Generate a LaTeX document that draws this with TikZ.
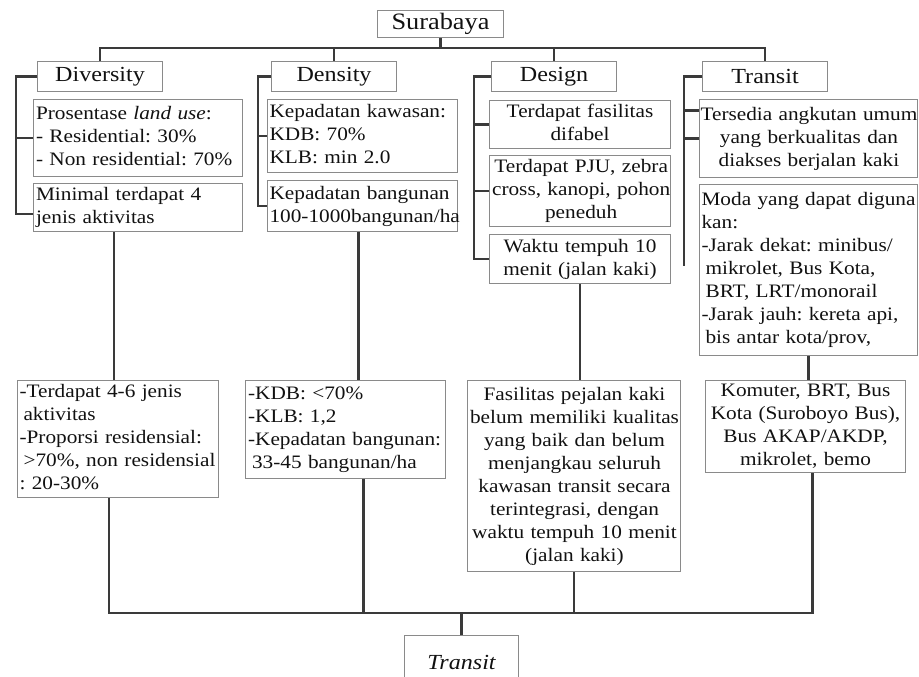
\documentclass[tikz,border=0pt]{standalone}
\usepackage{fontspec}
\setmainfont{Liberation Serif}[FakeStretch=1.12]
\usetikzlibrary{calc}
\frenchspacing

\definecolor{linegray}{HTML}{3A3A3A}
\definecolor{boxgray}{HTML}{8A8A8A}
\definecolor{textgray}{HTML}{111111}

% lines of a box, kept from breaking
\newcommand{\boxlines}[2]{\begin{tabular}{@{}#1@{}}#2\end{tabular}}

\tikzset{
  box/.style={draw=boxgray, line width=1.1pt, anchor=north west, inner xsep=2.5pt, inner ysep=0pt,
    text=textgray, font=\fontsize{19}{23}\selectfont},
  headbox/.style={box, align=center, font=\fontsize{21.5}{24}\selectfont, minimum width=125pt, minimum height=30pt},
  link/.style={draw=linegray, line width=2.2pt},
}

\begin{document}
\begin{tikzpicture}[x=1pt, y=-1pt]
    \useasboundingbox (0,0) rectangle (919,677);
    \clip (0,0) rectangle (919,677);

    % top level
    \node[box, align=center, font=\fontsize{23.5}{26}\selectfont, minimum width=126pt, minimum height=27pt] (surabaya) at (377,10) {Surabaya};

    \node[headbox] (diversity) at (37,61) {Diversity};
    \node[headbox] (density) at (271,61) {Density};
    \node[headbox] (design) at (491,61) {Design};
    \node[headbox] (transit) at (702,61) {Transit};

    % diversity
    \node[box, align=left, text width=204pt, minimum height=77pt] (landuse) at (33,99) {\boxlines{l}{Prosentase \textit{land use}:\\- Residential: 30\%\\- Non residential: 70\%}};
    \node[box, align=left, text width=204pt, minimum height=48pt] (minimal) at (33,183) {\boxlines{l}{Minimal terdapat 4\\jenis aktivitas}};
    \node[box, align=left, text width=197pt, inner xsep=2pt, minimum height=117pt] (divlow) at (17,380) {\boxlines{l}{-Terdapat 4-6 jenis\\\hspace*{4pt}aktivitas\\-Proporsi residensial:\\\hspace*{4pt}>70\%, non residensial\\: 20-30\%}};

    % density
    \node[box, align=left, text width=186pt, inner xsep=2pt, minimum height=73pt] (kawasan) at (267,99) {\boxlines{l}{Kepadatan kawasan:\\KDB: 70\%\\KLB: min 2.0}};
    \node[box, align=left, text width=186pt, inner xsep=2pt, minimum height=51pt] (bangunan) at (267,180) {\boxlines{l}{Kepadatan bangunan\\100-1000bangunan/ha}};
    \node[box, align=left, text width=195pt, minimum height=98pt] (denslow) at (245,380) {\boxlines{l}{-KDB: <70\%\\-KLB: 1,2\\-Kepadatan bangunan:\\\hspace*{4pt}33-45 bangunan/ha}};

    % design
    \node[box, align=center, text width=176pt, minimum height=48pt] (difabel) at (489,100) {\boxlines{c}{Terdapat fasilitas\\difabel}};
    \node[box, align=center, text width=176pt, minimum height=71pt] (pju) at (489,155) {\boxlines{c}{Terdapat PJU, zebra\\cross, kanopi, pohon\\peneduh}};
    \node[box, align=center, text width=176pt, minimum height=49pt] (waktu) at (489,234) {\boxlines{c}{Waktu tempuh 10\\menit (jalan kaki)}};
    \node[box, align=center, text width=208pt, minimum height=191pt] (deslow) at (467,380) {\boxlines{c}{Fasilitas pejalan kaki\\belum memiliki kualitas\\yang baik dan belum\\menjangkau seluruh\\kawasan transit secara\\terintegrasi, dengan\\waktu tempuh 10 menit\\(jalan kaki)}};

    % transit
    \node[box, align=center, text width=216pt, inner xsep=1pt, minimum height=78pt] (tersedia) at (699,99) {\boxlines{c}{Tersedia angkutan umum\\yang berkualitas dan\\diakses berjalan kaki}};
    \node[box, align=left, text width=214pt, inner xsep=2pt, minimum height=171pt] (moda) at (699,184) {\boxlines{l}{Moda yang dapat diguna\\kan:\\-Jarak dekat: minibus/\\\hspace*{4pt}mikrolet, Bus Kota,\\\hspace*{4pt}BRT, LRT/monorail\\-Jarak jauh: kereta api,\\\hspace*{4pt}bis antar kota/prov,}};
    \node[box, align=center, text width=195pt, minimum height=92pt] (komuter) at (705,380) {\boxlines{c}{Komuter, BRT, Bus\\Kota (Suroboyo Bus),\\Bus AKAP/AKDP,\\mikrolet, bemo}};

    % bottom
    \node[box, align=center, font=\fontsize{21.5}{24}\selectfont\itshape, minimum width=114pt, minimum height=54pt] (ending) at (404,635) {Transit};

    % top tree
    \coordinate (topbar) at (0,48);
    \coordinate (botbar) at (0,613);
    \draw[link] (surabaya.south) -- (surabaya.south |- topbar);
    \draw[link] (diversity.north) -- (diversity.north |- topbar) -- (transit.north |- topbar) -- (transit.north);
    \foreach \n in {density, design}
        \draw[link] (\n.north) -- (\n.north |- topbar);

    % side brackets
    \coordinate (divbar) at (16,214);
    \draw[link] (diversity.west) -| (divbar) -- (divbar -| minimal.west);
    \draw[link] (landuse.west) -- (landuse.west -| divbar);

    \coordinate (densbar) at (258,0);
    \draw[link] (density.west) -| (densbar |- bangunan.west) -- (bangunan.west);
    \draw[link] (kawasan.west) -- (kawasan.west -| densbar);

    \coordinate (desbar) at (474,0);
    \draw[link] (design.west) -| (desbar |- waktu.west) -- (waktu.west);
    \foreach \n in {difabel, pju}
        \draw[link] (\n.west) -- (\n.west -| desbar);

    \coordinate (trbar) at (684,266);
    \draw[link] (transit.west) -| (trbar);
    \draw[link] (tersedia.west) -- (tersedia.west -| trbar);
    \draw[link] ([yshift=28pt]tersedia.west) -- ([yshift=28pt]tersedia.west -| trbar);

    % columns down
    \draw[link] ([xshift=-4pt]divlow.north) -- ([xshift=-4pt]divlow.north |- minimal.south);
    \draw[link] ([xshift=-4pt]bangunan.south) -- ([xshift=-4pt]bangunan.south |- denslow.north);
    \draw[link] (waktu.south) -- (waktu.south |- deslow.north);
    \draw[link] (moda.south) -- (moda.south |- komuter.north);

    % bottom tree
    \draw[link] ([xshift=-9pt]divlow.south) |- ([xshift=7pt]komuter.south |- botbar) -- ([xshift=7pt]komuter.south);
    \draw[link] ([xshift=18pt]denslow.south) -- ([xshift=18pt]denslow.south |- botbar);
    \draw[link] (deslow.south) -- (deslow.south |- botbar);
    \draw[link] (ending.north) -- (ending.north |- botbar);
\end{tikzpicture}
\end{document}
